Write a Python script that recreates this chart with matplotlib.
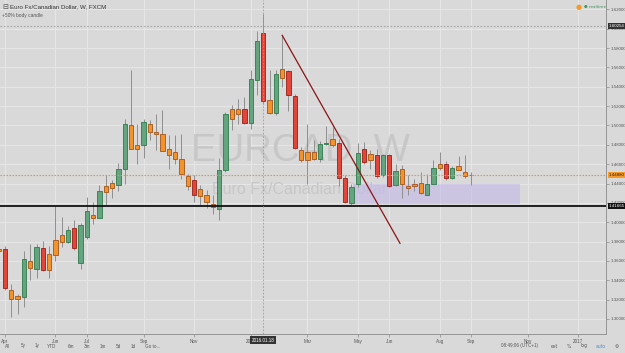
import matplotlib
matplotlib.use('Agg')
import matplotlib.pyplot as plt
from matplotlib.patches import Rectangle
import numpy as np

# ---------------- data (weekly EUR/CAD candles, bar index 0 = week of 2015-03-30) -------------
opens = [1.3720, 1.3720, 1.3300, 1.3205, 1.3227, 1.3596, 1.3516, 1.3730, 1.3510, 1.3660,
         1.3795, 1.3795, 1.3937, 1.3579, 1.3847, 1.4043, 1.4047, 1.4312, 1.4358, 1.4384,
         1.4554, 1.5004, 1.4756, 1.4798, 1.5012, 1.4929, 1.4915, 1.4753, 1.4722, 1.4657,
         1.4474, 1.4433, 1.4268, 1.4285, 1.4185, 1.4141, 1.4536, 1.5071, 1.5174, 1.5174,
         1.5025, 1.5466, 1.5959, 1.5267, 1.5128, 1.5494, 1.5562, 1.5304, 1.4750, 1.4647,
         1.4722, 1.4657, 1.4812, 1.4795, 1.4823, 1.4461, 1.4195, 1.4390, 1.4761, 1.4647,
         1.4698, 1.4485, 1.4691, 1.4388, 1.4547, 1.4374, 1.4371, 1.4409, 1.4285, 1.4399,
         1.4564, 1.4598, 1.4461, 1.4578, 1.4519, 1.4490]
highs = [1.3740, 1.3751, 1.3365, 1.3262, 1.3699, 1.3771, 1.3771, 1.3806, 1.3751, 1.4164,
         1.4054, 1.3957, 1.4020, 1.3992, 1.4260, 1.4209, 1.4381, 1.4485, 1.4440, 1.4616,
         1.5071, 1.5570, 1.5012, 1.5063, 1.5053, 1.5122, 1.5164, 1.4905, 1.4905, 1.4916,
         1.4495, 1.4485, 1.4381, 1.4337, 1.4278, 1.4668, 1.5139, 1.5208, 1.5277, 1.5294,
         1.5570, 1.5976, 1.6150, 1.5577, 1.5570, 1.5931, 1.5577, 1.5329, 1.4777, 1.5019,
         1.4846, 1.4839, 1.4990, 1.4984, 1.4864, 1.4485, 1.4399, 1.4823, 1.4829, 1.4743,
         1.4761, 1.4709, 1.4709, 1.4605, 1.4588, 1.4485, 1.4450, 1.4519, 1.4502, 1.4647,
         1.4725, 1.4632, 1.4578, 1.4681, 1.4691, 1.4519]
lows = [1.3680, 1.3303, 1.3020, 1.3055, 1.3124, 1.3400, 1.3427, 1.3500, 1.3427, 1.3599,
        1.3744, 1.3782, 1.3710, 1.3514, 1.3823, 1.3985, 1.4040, 1.4182, 1.4254, 1.4322,
        1.4392, 1.4753, 1.4605, 1.4668, 1.4846, 1.4743, 1.4733, 1.4554, 1.4605, 1.4451,
        1.4330, 1.4209, 1.4175, 1.4151, 1.4082, 1.4027, 1.4519, 1.4950, 1.5019, 1.5012,
        1.4967, 1.5311, 1.5226, 1.5122, 1.5105, 1.5397, 1.5149, 1.4756, 1.4622, 1.4399,
        1.4640, 1.4622, 1.4795, 1.4777, 1.4374, 1.4198, 1.4175, 1.4364, 1.4605, 1.4554,
        1.4461, 1.4467, 1.4364, 1.4371, 1.4250, 1.4278, 1.4319, 1.4288, 1.4278, 1.4392,
        1.4536, 1.4440, 1.4450, 1.4536, 1.4457, 1.4388]
closes = [1.3705, 1.3320, 1.3210, 1.3234, 1.3616, 1.3527, 1.3748, 1.3506, 1.3668, 1.3813,
          1.3865, 1.3916, 1.3737, 1.3968, 1.4113, 1.4071, 1.4319, 1.4371, 1.4405, 1.4547,
          1.5012, 1.4760, 1.4802, 1.5039, 1.4932, 1.4915, 1.4736, 1.4698, 1.4653, 1.4502,
          1.4374, 1.4278, 1.4343, 1.4209, 1.4160, 1.4536, 1.5122, 1.5174, 1.5122, 1.5029,
          1.5484, 1.5869, 1.5249, 1.5128, 1.5528, 1.5587, 1.5318, 1.4764, 1.4647, 1.4725,
          1.4653, 1.4812, 1.4815, 1.4864, 1.4461, 1.4209, 1.4368, 1.4719, 1.4622, 1.4709,
          1.4474, 1.4698, 1.4374, 1.4529, 1.4399, 1.4353, 1.4399, 1.4306, 1.4399, 1.4564,
          1.4598, 1.4461, 1.4564, 1.4543, 1.4478, 1.4488]
# candle class from the "50% body candle" study: g = bullish, r = bearish, o = small body
kinds = ['o', 'r', 'o', 'o', 'g', 'o', 'g', 'r', 'o', 'o',
         'o', 'g', 'r', 'g', 'g', 'o', 'g', 'o', 'o', 'g',
         'g', 'o', 'o', 'g', 'o', 'o', 'o', 'o', 'o', 'o',
         'o', 'r', 'o', 'o', 'o', 'g', 'g', 'o', 'o', 'r',
         'g', 'g', 'r', 'o', 'g', 'o', 'r', 'r', 'o', 'o',
         'o', 'g', 'g', 'o', 'r', 'r', 'g', 'g', 'r', 'o',
         'r', 'g', 'r', 'g', 'o', 'o', 'o', 'o', 'g', 'g',
         'o', 'r', 'g', 'o', 'o', 'o']

x_tick_pos = [1, 9, 14, 23, 31, 40, 49, 57, 62, 70, 75, 84, 92]
x_tick_labels = ["Apr", "Jun", "Jul", "Sep", "Nov", "2016", "Mar", "May", "Jun", "Aug", "Sep", "Nov", "2017"]
price_ticks = [1.30, 1.32, 1.34, 1.36, 1.38, 1.40, 1.42, 1.44, 1.46, 1.48, 1.50, 1.52, 1.54, 1.56, 1.58, 1.60, 1.62]

last_price = 1.44880
support_level = 1.41665
crosshair_bar = 42
crosshair_price = 1.60254
crosshair_label = "2016.01.18"
trend_x = [45, 63.7]
trend_y = [1.5931, 1.3782]
zone_x = [56.3, 82.7]
zone_y = [1.4193, 1.4399]

# ---------------------------------------------------------------------------------------------
BG = '#d9d9d9'
GRID = '#e6e6e6'
fig = plt.figure(figsize=(6.25, 3.53), dpi=100, facecolor=BG)
ax = fig.add_axes([0, 19 / 353, 606 / 625, 334 / 353], facecolor=BG)
ax.set_xlim(0.206, 96.4)
ax.set_ylim(1.2845, 1.6296)

for p in price_ticks:
    ax.axhline(p, color=GRID, lw=0.8, zorder=0)
for xp in x_tick_pos:
    ax.axvline(xp, color=GRID, lw=0.8, zorder=0)

fill = {'g': '#64a47e', 'r': '#e2463a', 'o': '#f2932c'}
edge = {'g': '#2f7a4c', 'r': '#9a1f16', 'o': '#a4541a'}

# watermark
ax.text(0.495, 0.549, "EURCAD, W", transform=ax.transAxes, ha='center', va='center',
        fontsize=27.5, color='#c7c7c7', family='Liberation Sans', zorder=1.2)
ax.text(0.495, 0.434, "Euro Fx/Canadian Dollar", transform=ax.transAxes, ha='center', va='center',
        fontsize=11.5, color='#c7c7c7', family='Liberation Sans', zorder=1.2)

# purple zone
ax.add_patch(Rectangle((zone_x[0], zone_y[0]), zone_x[1] - zone_x[0], zone_y[1] - zone_y[0],
                       facecolor='#c3b9e8', edgecolor='none', alpha=0.6, zorder=1.5))

idx = np.arange(len(opens))
ax.vlines(idx, lows, highs, color='#8f8f8f', lw=0.7, zorder=2)
bottoms = np.minimum(opens, closes)
heights = np.maximum(np.abs(np.array(closes) - np.array(opens)), 0.0004)
ax.bar(idx, heights, bottom=bottoms, width=0.68,
       color=[fill[k] for k in kinds], edgecolor=[edge[k] for k in kinds], linewidth=0.6, zorder=3)

# horizontal levels
ax.axhline(support_level, color='#111111', lw=1.3, zorder=4)
ax.axhline(last_price, color='#f39a2a', lw=0.8, ls=(0, (1.5, 1.2)), zorder=4)
# crosshair
ax.axvline(crosshair_bar, color='#9a9a9a', lw=0.6, ls=(0, (2, 2)), zorder=4)
ax.axhline(crosshair_price, color='#9a9a9a', lw=0.6, ls=(0, (2, 2)), zorder=4)
# trend line
ax.plot(trend_x, trend_y, color='#8b1414', lw=0.9, zorder=5)

# axes styling
for s in ['top', 'left']:
    ax.spines[s].set_visible(False)
for s in ['right', 'bottom']:
    ax.spines[s].set_color('#8a8a8a')
    ax.spines[s].set_linewidth(0.6)
ax.yaxis.tick_right()
ax.set_yticks(price_ticks)
ax.set_yticklabels([f"{p:.5f}" for p in price_ticks])
ax.set_xticks(x_tick_pos)
ax.set_xticklabels(x_tick_labels)
ax.tick_params(axis='y', length=2, width=0.5, color='#8a8a8a', labelsize=3.2, labelcolor='#555555', pad=1.2)
ax.tick_params(axis='x', length=2, width=0.5, color='#8a8a8a', labelsize=3.3, labelcolor='#555555', pad=1.5)
for lab in ax.get_yticklabels() + ax.get_xticklabels():
    lab.set_family('Liberation Sans')

# highlighted price labels
def price_box(p, txt, fc, tc):
    ax.text(1.0045, p, txt, transform=ax.get_yaxis_transform(), ha='left', va='center',
            fontsize=3.2, color=tc, family='Liberation Sans', clip_on=False, zorder=10,
            bbox=dict(boxstyle='square,pad=0.25', fc=fc, ec='none'))

price_box(crosshair_price, f"{crosshair_price:.5f}", '#333333', 'white')
price_box(last_price, f"{last_price:.5f}", '#f39a2a', '#222222')
price_box(support_level, f"{support_level:.5f}", '#111111', 'white')

ax.text(crosshair_bar, -0.019, crosshair_label, transform=ax.get_xaxis_transform(), ha='center', va='center',
        fontsize=3.3, color='white', family='Liberation Sans', clip_on=False, zorder=10,
        bbox=dict(boxstyle='square,pad=0.3', fc='#333333', ec='none'))

# header texts
fig.text(2 / 625, 1 - 7 / 353, "\u229f", fontsize=5, color='#555555', va='center', ha='left')
fig.text(10 / 625, 1 - 7 / 353, "Euro Fx/Canadian Dollar, W, FXCM", fontsize=4.4, color='#333333',
         va='center', ha='left', family='Liberation Sans')
fig.text(2 / 625, 1 - 15.5 / 353, "+50% body candle", fontsize=3.5, color='#555555',
         va='center', ha='left', family='Liberation Sans')
fig.text(579 / 625, 1 - 7 / 353, "\u25cf", fontsize=5, color='#f39a2a', va='center', ha='center')
fig.text(584 / 625, 1 - 7 / 353, "\u25cf realtime", fontsize=3.0, color='#3a9a5a', va='center', ha='left',
         family='DejaVu Sans')

# bottom toolbar
tb_items = ["All", "5y", "1y", "YTD", "6m", "3m", "1m", "5d", "1d", "Go to..."]
tb_x = [8, 23, 37, 52, 71, 87, 103, 118, 133, 153]
for t, xx in zip(tb_items, tb_x):
    fig.text(xx / 625, 1 - 346 / 353, t, fontsize=3.3, color='#555555', va='center', ha='center',
             family='Liberation Sans')
fig.text(520 / 625, 1 - 346 / 353, "08:49:06 (UTC+1)", fontsize=3.3, color='#555555', va='center', ha='center',
         family='Liberation Sans')
for t, xx, c in [("ext", 554, '#555555'), ("%", 569, '#555555'), ("log", 584, '#555555'),
                 ("auto", 601, '#4a8fd4'), ("\u2699", 617, '#555555')]:
    fig.text(xx / 625, 1 - 346 / 353, t, fontsize=3.3, color=c, va='center', ha='center', family='DejaVu Sans')

fig.savefig('out.png', dpi=100, facecolor=BG)
